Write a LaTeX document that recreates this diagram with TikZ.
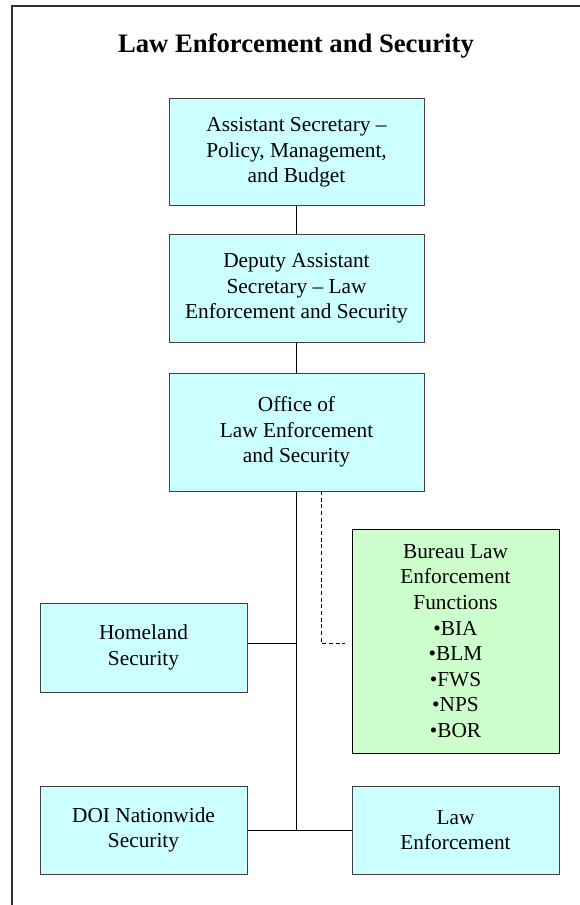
\documentclass[tikz,border=0pt]{standalone}
\usepackage{fontspec}
\setmainfont{Liberation Serif}
\usepackage{tikz}
\usepackage{color}

\begin{document}
\begin{tikzpicture}[x=0.75pt,y=0.75pt,yscale=-1,xscale=1,
  cyanbox/.style={draw=black!75, fill={rgb, 255:red, 204; green, 255; blue, 255 }, line width=0.75pt, align=center, inner sep=0pt, font=\fontsize{16}{19.2}\selectfont},
  greenbox/.style={draw=black, fill={rgb, 255:red, 204; green, 255; blue, 204 }, line width=0.75pt, align=center, inner sep=0pt, font=\fontsize{16}{19.2}\selectfont},
  link/.style={draw=black, line width=0.75pt}]
\useasboundingbox (0,0) rectangle (580,905);

%Frame: left and top
\draw [color={rgb, 255:red, 51; green, 51; blue, 51 }, line width=1.5pt] (12,905) -- (12,6) -- (580,6) ;

%Title
\node [anchor=base, font=\fontsize{20}{24}\selectfont\bfseries] (title) at (296,53) {Law Enforcement and Security};

%Boxes: top column
\node [cyanbox, minimum width=191.25pt, minimum height=80.25pt] (asst) at (296.5,152.5) {Assistant Secretary --\\Policy, Management,\\and Budget};
\node [cyanbox, minimum width=191.25pt, minimum height=80.25pt] (deputy) at (296.5,288.5) {Deputy Assistant\\Secretary -- Law\\Enforcement and Security};
\node [cyanbox, minimum width=191.25pt, minimum height=88.5pt] (office) at (296.5,432) {Office of\\Law Enforcement\\and Security};

%Boxes: lower part
\node [cyanbox, minimum width=155.25pt, minimum height=66.75pt] (homeland) at (143.5,647.5) {Homeland\\Security};
\node [greenbox, minimum width=155.25pt, minimum height=168pt] (bureau) at (455.5,641) {Bureau Law\\Enforcement\\Functions\\\textbullet BIA\\\textbullet BLM\\\textbullet FWS\\\textbullet NPS\\\textbullet BOR};
\node [cyanbox, minimum width=155.25pt, minimum height=66pt] (doi) at (143.5,830) {DOI Nationwide\\Security};
\node [cyanbox, minimum width=155.25pt, minimum height=66pt] (lawenf) at (455.5,830) {Law\\Enforcement};

%Junctions
\coordinate (hj) at (296.5,643) ;
\coordinate (bj) at (296.5,830) ;
\coordinate (dtop) at (321,491) ;
\coordinate (dbend) at (321,643) ;
\coordinate (dend) at (345,643) ;

%Connectors
\draw [link] (asst.south) -- (deputy.north) ;
\draw [link] (deputy.south) -- (office.north) ;
\draw [link] (office.south) -- (bj) ;
\draw [link] (homeland.east |- hj) -- (hj) ;
\draw [link] (doi.east) -- (lawenf.west) ;
\draw [link, dash pattern=on 3pt off 2pt] (dtop) -- (dbend) -- (dend) ;

\end{tikzpicture}
\end{document}
